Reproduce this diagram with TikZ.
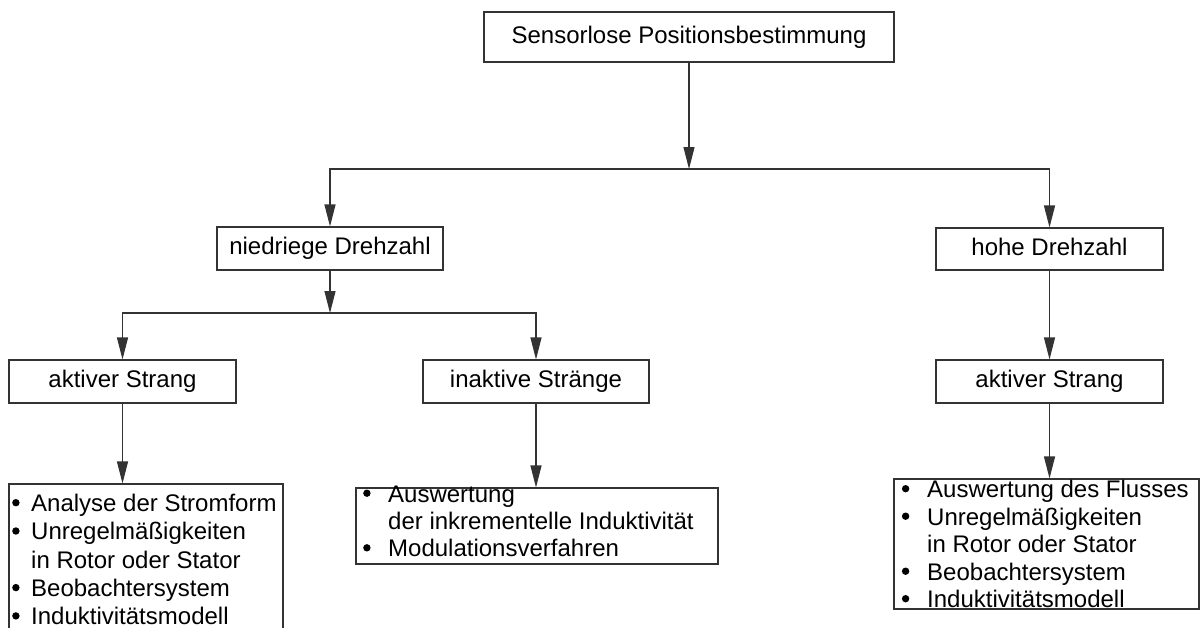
\documentclass[tikz,border=0pt]{standalone}
\usepackage{fontspec}
\setmainfont{Liberation Sans}
\usetikzlibrary{arrows.meta}
\newcommand\mybul{\tikz[x=1pt,y=1pt,baseline=0pt]{\path (0,0) (7.4,0); \fill[black] (3.7,8.8) circle (3.7);}}
\begin{document}
\begin{tikzpicture}[x=1pt,y=-1pt,
  line/.style={draw=black!80, line width=1.1pt},
  box/.style={line, rectangle, inner sep=0pt, text height=17.5pt, text depth=5pt, font=\fontsize{24}{28.3}\selectfont},
  arr/.style={line, -{Triangle[length=22pt,width=11pt]}},
  list/.style={anchor=base west, inner sep=0pt}]
\useasboundingbox (0,0) rectangle (1201,627);
\clip (0,0) rectangle (1201,627);
\fill[white] (0,0) rectangle (1201,627);
% boxes
\node[box, minimum width=410, minimum height=50] (top) at (689,37) {Sensorlose Positionsbestimmung};
\node[box, minimum width=226, minimum height=43] (nd) at (330,248.5) {niedriege Drehzahl};
\node[box, minimum width=227, minimum height=42] (hd) at (1049.5,249) {hohe Drehzahl};
\node[box, minimum width=227, minimum height=43] (as1) at (122.5,381.5) {aktiver Strang};
\node[box, minimum width=226, minimum height=43] (ia) at (536,381.5) {inaktive Stränge};
\node[box, minimum width=227, minimum height=43] (as2) at (1049.5,381.5) {aktiver Strang};
\node[box, minimum width=274, minimum height=176] (b1) at (146,572) {};
\node[box, minimum width=362, minimum height=76] (b2) at (537,526) {};
\node[box, minimum width=305, minimum height=130] (b3) at (1046.5,544) {};
% list texts
\node[list] (t1) at (12,511.5) {\fontsize{24}{28.3}\selectfont
  \begin{tabular}[t]{@{}p{19pt}@{}l@{}}
  \mybul & Analyse der Stromform\\
  \mybul & Unregelmäßigkeiten\\
         & in Rotor oder Stator\\
  \mybul & Beobachtersystem\\
  \mybul & Induktivitätsmodell
  \end{tabular}};
\node[list] (t2) at (363,502) {\fontsize{24}{27.3}\selectfont
  \begin{tabular}[t]{@{}p{25pt}@{}l@{}}
  \mybul & Auswertung\\
         & der inkrementelle Induktivität\\
  \mybul & Modulationsverfahren
  \end{tabular}};
\node[list] (t3) at (901.7,497.5) {\fontsize{24}{27.5}\selectfont
  \begin{tabular}[t]{@{}p{25.3pt}@{}l@{}}
  \mybul & Auswertung des Flusses\\
  \mybul & Unregelmäßigkeiten\\
         & in Rotor oder Stator\\
  \mybul & Beobachtersystem\\
  \mybul & Induktivitätsmodell
  \end{tabular}};
% connectors
\coordinate (j1) at (689,169);
\coordinate (j2) at (330,313);
\draw[arr] (top.south) -- (j1);
\draw[arr] (j1) -| (nd.north);
\draw[arr] (j1) -| (hd.north);
\draw[arr] (nd.south) -- (j2);
\draw[arr] (j2) -| (as1.north);
\draw[arr] (j2) -| (ia.north);
\draw[arr] (hd.south) -- (as2.north);
\draw[arr] (as1.south) -- (as1.south |- b1.north);
\draw[arr] (ia.south) -- (ia.south |- b2.north);
\draw[arr] (as2.south) -- (as2.south |- b3.north);
\end{tikzpicture}
\end{document}
